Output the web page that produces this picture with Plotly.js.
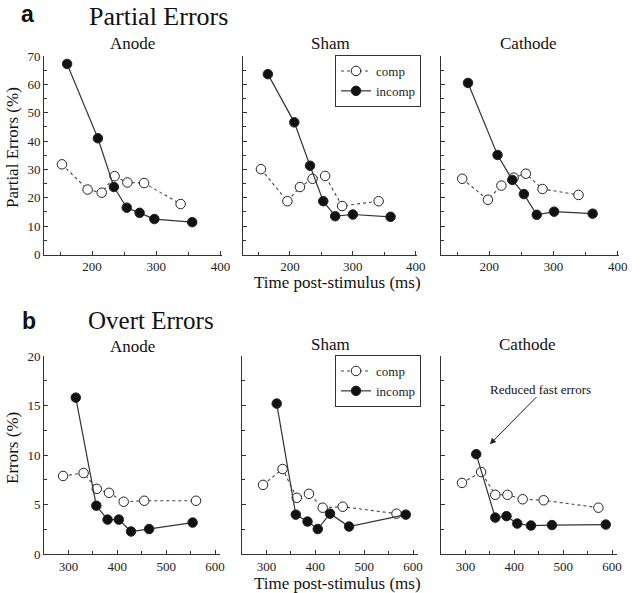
<!DOCTYPE html>
<html>
<head>
<meta charset="utf-8">
<script src="https://cdn.plot.ly/plotly-3.0.1.min.js"></script>
<style>html,body{margin:0;padding:0;background:#fff;}#chart{width:640px;height:593px;}</style>
</head>
<body>
<div id="chart"></div>
<script>
// ---- Data ----
const seriesNames = ["comp", "incomp"];
const conditionNames = ["Anode", "Sham", "Cathode"];

// Partial errors (%), time post-stimulus (ms)
const partialAnodeCompX   = [153, 193, 215, 235, 255, 281, 338];
const partialAnodeCompY   = [31.8, 22.9, 21.8, 27.6, 25.4, 25.2, 17.8];
const partialAnodeIncompX = [161, 209, 234, 254, 274, 297, 356];
const partialAnodeIncompY = [67.2, 41.0, 23.8, 16.5, 14.7, 12.5, 11.4];

const partialShamCompX    = [154, 196, 216, 236, 256, 283, 341];
const partialShamCompY    = [30.1, 18.8, 23.8, 26.7, 27.7, 17.1, 18.8];
const partialShamIncompX  = [165, 207, 232, 253, 272, 300, 360];
const partialShamIncompY  = [63.6, 46.6, 31.3, 18.8, 13.5, 14.1, 13.3];

const partialCathodeCompX   = [158, 198, 219, 238, 257, 283, 339];
const partialCathodeCompY   = [26.7, 19.3, 24.3, 27.1, 28.5, 23.1, 21.0];
const partialCathodeIncompX = [167, 213, 236, 254, 274, 301, 361];
const partialCathodeIncompY = [60.5, 35.1, 26.3, 21.3, 14.0, 15.1, 14.4];

// Overt errors (%), time post-stimulus (ms)
const overtAnodeCompX   = [289, 331, 358, 383, 413, 455, 561];
const overtAnodeCompY   = [7.9, 8.2, 6.6, 6.2, 5.3, 5.4, 5.4];
const overtAnodeIncompX = [315, 357, 380, 403, 428, 465, 554];
const overtAnodeIncompY = [15.8, 4.9, 3.5, 3.5, 2.3, 2.55, 3.2];

const overtShamCompX    = [293, 333, 362, 387, 415, 456, 566];
const overtShamCompY    = [7.0, 8.6, 5.7, 6.1, 4.7, 4.8, 4.1];
const overtShamIncompX  = [321, 360, 384, 405, 430, 469, 585];
const overtShamIncompY  = [15.2, 4.0, 3.3, 2.55, 4.1, 2.8, 4.0];

const overtCathodeCompX   = [293, 332, 361, 386, 417, 460, 572];
const overtCathodeCompY   = [7.2, 8.3, 6.0, 6.0, 5.55, 5.45, 4.7];
const overtCathodeIncompX = [322, 361, 384, 406, 434, 477, 587];
const overtCathodeIncompY = [10.1, 3.7, 3.85, 3.1, 2.9, 2.95, 3.0];

// Arrow annotation target (data coords in Overt/Cathode panel)
const arrowHead = [350, 11.1];
const arrowTail = [448, 16.0];

// ---- Helpers ----
const W = 640, H = 593;
const px = v => v / W;
const py = v => 1 - v / H;
const SERIF = "Liberation Serif";
const SANS = "Liberation Sans";
const INK = "#222";

function comp(x, y, xa, ya, legend, show) {
  return {x: x, y: y, xaxis: xa, yaxis: ya, type: "scatter", mode: "lines+markers",
    name: seriesNames[0], legend: legend, showlegend: show,
    line: {color: "#444", width: 1.1, dash: "dot"},
    marker: {symbol: "circle", size: 9.5, color: "#fff", line: {color: INK, width: 1}}};
}
function incomp(x, y, xa, ya, legend, show) {
  return {x: x, y: y, xaxis: xa, yaxis: ya, type: "scatter", mode: "lines+markers",
    name: seriesNames[1], legend: legend, showlegend: show,
    line: {color: "#333", width: 1.2, dash: "solid"},
    marker: {symbol: "circle", size: 9.5, color: "#111", line: {color: INK, width: 1}}};
}

const data = [
  comp(partialAnodeCompX, partialAnodeCompY, "x", "y", "legend", false),
  incomp(partialAnodeIncompX, partialAnodeIncompY, "x", "y", "legend", false),
  comp(partialShamCompX, partialShamCompY, "x2", "y2", "legend", true),
  incomp(partialShamIncompX, partialShamIncompY, "x2", "y2", "legend", true),
  comp(partialCathodeCompX, partialCathodeCompY, "x3", "y3", "legend", false),
  incomp(partialCathodeIncompX, partialCathodeIncompY, "x3", "y3", "legend", false),
  comp(overtAnodeCompX, overtAnodeCompY, "x4", "y4", "legend2", false),
  incomp(overtAnodeIncompX, overtAnodeIncompY, "x4", "y4", "legend2", false),
  comp(overtShamCompX, overtShamCompY, "x5", "y5", "legend2", true),
  incomp(overtShamIncompX, overtShamIncompY, "x5", "y5", "legend2", true),
  comp(overtCathodeCompX, overtCathodeCompY, "x6", "y6", "legend2", false),
  incomp(overtCathodeIncompX, overtCathodeIncompY, "x6", "y6", "legend2", false)
];

function xax(domain, range, anchor) {
  return {domain: domain, range: range, anchor: anchor, showline: true, linecolor: "#333", linewidth: 1,
    ticks: "inside", ticklen: 4, tickcolor: "#333", tickmode: "linear", tick0: 0, dtick: 100,
    minor: {ticks: "inside", ticklen: 3, tickcolor: "#333", dtick: 50, tick0: 0},
    showgrid: false, zeroline: false, tickfont: {family: SERIF, size: 13, color: INK}, fixedrange: true};
}
function yax(domain, range, anchor, dtick, mdtick, labels) {
  return {domain: domain, range: range, anchor: anchor, showline: true, linecolor: "#333", linewidth: 1,
    ticks: "inside", ticklen: 4, tickcolor: "#333", tickmode: "linear", tick0: 0, dtick: dtick,
    minor: {ticks: "inside", ticklen: 3, tickcolor: "#333", dtick: mdtick, tick0: 0},
    showticklabels: labels, showgrid: false, zeroline: false,
    tickfont: {family: SERIF, size: 13, color: INK}, fixedrange: true};
}

function txt(text, x, y, size, extra) {
  return Object.assign({text: text, x: px(x), y: py(y), xref: "paper", yref: "paper", showarrow: false,
    xanchor: "center", yanchor: "middle", font: {family: SERIF, size: size, color: "#111"}}, extra || {});
}

const topY = [py(254.5), py(56)];
const botY = [py(554.3), py(356)];

const legendStyle = {xanchor: "left", yanchor: "top", bgcolor: "#fff",
  bordercolor: "#333", borderwidth: 1, font: {family: SERIF, size: 13, color: INK},
  tracegroupgap: 0, itemwidth: 30};

const layout = {
  width: W, height: H, margin: {l: 0, r: 0, t: 0, b: 0},
  paper_bgcolor: "#fff", plot_bgcolor: "rgba(0,0,0,0)",
  font: {family: SERIF, color: INK},
  xaxis:  xax([px(44), px(221.7)], [125, 402], "y"),
  yaxis:  yax(topY, [0, 70], "x", 10, 5, true),
  xaxis2: xax([px(242.7), px(417)], [125, 402], "y2"),
  yaxis2: yax(topY, [0, 70], "x2", 10, 5, false),
  xaxis3: xax([px(441), px(619)], [125, 402], "y3"),
  yaxis3: yax(topY, [0, 70], "x3", 10, 5, false),
  xaxis4: xax([px(44), px(220)], [250, 610], "y4"),
  yaxis4: yax(botY, [0, 20], "x4", 5, 2.5, true),
  xaxis5: xax([px(242), px(418)], [250, 610], "y5"),
  yaxis5: yax(botY, [0, 20], "x5", 5, 2.5, false),
  xaxis6: xax([px(441), px(617)], [250, 610], "y6"),
  yaxis6: yax(botY, [0, 20], "x6", 5, 2.5, false),
  legend: Object.assign({x: px(335), y: py(55)}, legendStyle),
  legend2: Object.assign({x: px(335), y: py(355)}, legendStyle),
  showlegend: true,
  annotations: [
    txt("<b>a</b>", 27, 14, 23, {font: {family: SANS, size: 23, color: "#111"}}),
    txt("Partial Errors", 87, 0, 26, {xanchor: "left", yanchor: "top"}),
    txt("<b>b</b>", 29, 321, 23, {font: {family: SANS, size: 23, color: "#111"}}),
    txt("Overt Errors", 86, 320, 25, {xanchor: "left"}),

    txt(conditionNames[0], 132, 43, 17),
    txt(conditionNames[1], 330, 43, 17),
    txt(conditionNames[2], 528, 43, 17),
    txt(conditionNames[0], 132, 346, 17),
    txt(conditionNames[1], 330, 344, 17),
    txt(conditionNames[2], 527, 344, 17),

    txt("Partial Errors (%)", 12, 148, 17, {textangle: -90}),
    txt("Errors (%)", 12, 448, 17, {textangle: -90}),
    txt("Time post-stimulus (ms)", 337, 282, 17),
    txt("Time post-stimulus (ms)", 337, 583, 17),

    txt("Reduced fast errors", 540, 389, 13),
    {text: "", x: arrowHead[0], y: arrowHead[1], xref: "x6", yref: "y6",
      ax: arrowTail[0], ay: arrowTail[1], axref: "x6", ayref: "y6",
      showarrow: true, arrowhead: 2, arrowsize: 1.2, arrowwidth: 1, arrowcolor: "#222"}
  ]
};

Plotly.newPlot("chart", data, layout, {staticPlot: true});
</script>
</body>
</html>
